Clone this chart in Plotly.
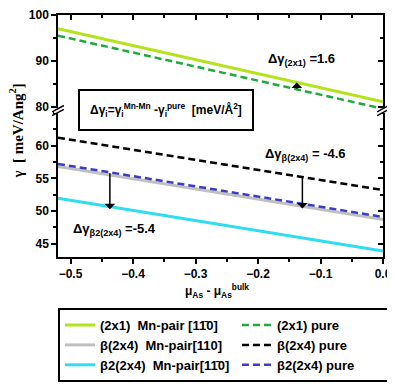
import plotly.graph_objects as go
from plotly.subplots import make_subplots

# chemical potential end points
mu = [-0.52, 0.0]

# surface energies (meV/Ang^2) read at the two ends
g_2x1_mn = [97.0, 81.1]
g_2x1_pure = [95.5, 79.6]
g_b_mn = [56.8, 48.7]
g_b_pure = [61.2, 53.2]
g_b2_mn = [51.95, 43.9]
g_b2_pure = [57.2, 49.1]

top_ticks = [80, 90, 100]
bot_ticks = [45, 50, 55, 60]

bar1 = "1\u0304"
names = [
    "(2x1)  Mn-pair [1" + bar1 + "0]",
    "(2x1) pure",
    "\u03b2(2x4)  Mn-pair[110]",
    "\u03b2(2x4) pure",
    "\u03b22(2x4)  Mn-pair[1" + bar1 + "0]",
    "\u03b22(2x4) pure",
]

FONT = "Liberation Sans, Arial, sans-serif"

fig = make_subplots(rows=2, cols=1, shared_xaxes=True, vertical_spacing=0,
                    row_heights=[0.393, 0.607])

# top panel (2x1)
fig.add_trace(go.Scatter(x=mu, y=g_2x1_mn, mode="lines", name=names[0],
                         line=dict(color="#b4e31c", width=3)), row=1, col=1)
fig.add_trace(go.Scatter(x=mu, y=g_2x1_pure, mode="lines", name=names[1],
                         line=dict(color="#1faa3c", width=2.5, dash="7px,4px")), row=1, col=1)
# bottom panel (2x4)
fig.add_trace(go.Scatter(x=mu, y=g_b_mn, mode="lines", name=names[2],
                         line=dict(color="#c0c0c0", width=3)), row=2, col=1)
fig.add_trace(go.Scatter(x=mu, y=g_b_pure, mode="lines", name=names[3],
                         line=dict(color="black", width=2.5, dash="7px,4px")), row=2, col=1)
fig.add_trace(go.Scatter(x=mu, y=g_b2_mn, mode="lines", name=names[4],
                         line=dict(color="#2fdcf0", width=3)), row=2, col=1)
fig.add_trace(go.Scatter(x=mu, y=g_b2_pure, mode="lines", name=names[5],
                         line=dict(color="#3c3cc8", width=2.5, dash="7px,4px")), row=2, col=1)

# dummy traces so the right-side inner-tick axes get drawn
fig.add_trace(go.Scatter(x=[], y=[], xaxis="x", yaxis="y3", showlegend=False))
fig.add_trace(go.Scatter(x=[], y=[], xaxis="x2", yaxis="y4", showlegend=False))

tickfont = dict(family=FONT, size=12, color="black", weight="bold")
common = dict(showgrid=False, zeroline=False, showline=True, linecolor="black",
              linewidth=1.5, tickcolor="black", tickwidth=1.5, tickfont=tickfont)

top_rng = [79.3, 100]
bot_rng = [43.0, 65.4]

fig.update_xaxes(range=[-0.52, 0.0], dtick=0.1, tick0=0, **common)
fig.update_xaxes(row=2, col=1, ticks="outside", ticklen=5, tickformat=".1f",
                 minor=dict(dtick=0.05, ticklen=3, ticks="outside", tickcolor="black"))
fig.update_xaxes(row=1, col=1, side="top", ticks="inside", ticklen=5, showticklabels=False,
                 minor=dict(dtick=0.05, ticklen=3, ticks="inside", tickcolor="black"))

fig.update_yaxes(row=1, col=1, range=top_rng, tickvals=top_ticks, ticks="outside", ticklen=5,
                 minor=dict(dtick=5, ticklen=3, ticks="outside", tickcolor="black"), **common)
fig.update_yaxes(row=2, col=1, range=bot_rng, tickvals=bot_ticks, ticks="outside", ticklen=5,
                 minor=dict(dtick=2.5, ticklen=3, ticks="outside", tickcolor="black"), **common)

fig.update_layout(
    yaxis3=dict(overlaying="y", anchor="x", side="right", range=top_rng, tickvals=top_ticks,
                ticks="inside", ticklen=5, showticklabels=False,
                minor=dict(dtick=5, ticklen=3, ticks="inside", tickcolor="black"), **common),
    yaxis4=dict(overlaying="y2", anchor="x2", side="right", range=bot_rng, tickvals=bot_ticks,
                ticks="inside", ticklen=5, showticklabels=False,
                minor=dict(dtick=2.5, ticklen=3, ticks="inside", tickcolor="black"), **common),
)

# arrows showing the energy differences
arrows = [
    dict(x=-0.138, xref="x", yref="y", y=85.3, ay=83.6),
    dict(x=-0.129, xref="x2", yref="y2", y=50.4, ay=55.4),
    dict(x=-0.437, xref="x2", yref="y2", y=50.3, ay=56.0),
]
for a in arrows:
    fig.add_annotation(x=a["x"], y=a["y"], ax=a["x"], ay=a["ay"], xref=a["xref"], yref=a["yref"],
                       axref=a["xref"], ayref=a["yref"], text="", showarrow=True,
                       arrowhead=1, arrowsize=1.2, arrowwidth=1.5, arrowcolor="black")

lab = dict(family=FONT, size=13, color="black")
fig.add_annotation(x=-0.187, y=90.3, xref="x", yref="y", xanchor="left", showarrow=False,
                   text="<b>\u0394\u03b3<sub>(2x1)</sub> =1.6</b>", font=lab)
fig.add_annotation(x=-0.192, y=58.6, xref="x2", yref="y2", xanchor="left", showarrow=False,
                   text="<b>\u0394\u03b3<sub>\u03b2(2x4)</sub> = -4.6</b>", font=lab)
fig.add_annotation(x=-0.5, y=47.2, xref="x2", yref="y2", xanchor="left", showarrow=False,
                   text="<b>\u0394\u03b3<sub>\u03b22(2x4)</sub> =-5.4</b>", font=lab)

# definition box
fig.add_annotation(x=0.333, y=0.607, xref="paper", yref="paper", showarrow=False,
                   xanchor="center", yanchor="middle",
                   text="<b>\u0394\u03b3<sub>i</sub>=\u03b3<sub>i</sub><sup>Mn-Mn</sup> -\u03b3<sub>i</sub><sup>pure</sup>  [meV/\u00c5<sup>2</sup>]</b>",
                   font=dict(family=FONT, size=12, color="black"), bgcolor="white",
                   bordercolor="black", borderwidth=2, borderpad=10)

# axis titles
fig.add_annotation(x=-0.128, y=0.52, xref="paper", yref="paper", showarrow=False, textangle=-90,
                   xanchor="center", yanchor="middle",
                   text="<b>\u03b3  [ meV/Ang<sup>2</sup>]</b>",
                   font=dict(family="Liberation Serif, Times New Roman, serif", size=15, color="black"))
fig.add_annotation(x=0.49, y=-0.14, xref="paper", yref="paper", showarrow=False,
                   xanchor="center", yanchor="middle",
                   text="<b>\u03bc<sub>As</sub> - \u03bc<sub>As</sub><sup>bulk</sup></b>",
                   font=dict(family=FONT, size=12, color="black"))

# axis break marks on both sides
for xp in [0.0, 1.0]:
    fig.add_shape(type="rect", xref="paper", yref="paper", x0=xp - 0.012, x1=xp + 0.012,
                  y0=0.595, y1=0.615, fillcolor="white", line=dict(width=0), layer="above")
    for dy in [-0.008, 0.008]:
        fig.add_shape(type="line", xref="paper", yref="paper", x0=xp - 0.018, x1=xp + 0.018,
                      y0=0.592 + dy, y1=0.618 + dy, line=dict(color="black", width=1.5), layer="above")

# the page body has an 8px margin, so the figure is shrunk and shifted to fit the window
fig.update_layout(
    width=387, height=378,
    margin=dict(l=50, r=12, t=7, b=129, autoexpand=False),
    plot_bgcolor="white", paper_bgcolor="white",
    font=dict(family=FONT, color="black"),
    legend=dict(orientation="h", x=-0.0001, y=-0.211, xanchor="left", yanchor="top",
                entrywidth=132, itemwidth=30, bgcolor="white", bordercolor="black", borderwidth=2,
                font=dict(family=FONT, size=13, color="black", weight="bold"), traceorder="normal"),
)

fig.write_html("out.html")
